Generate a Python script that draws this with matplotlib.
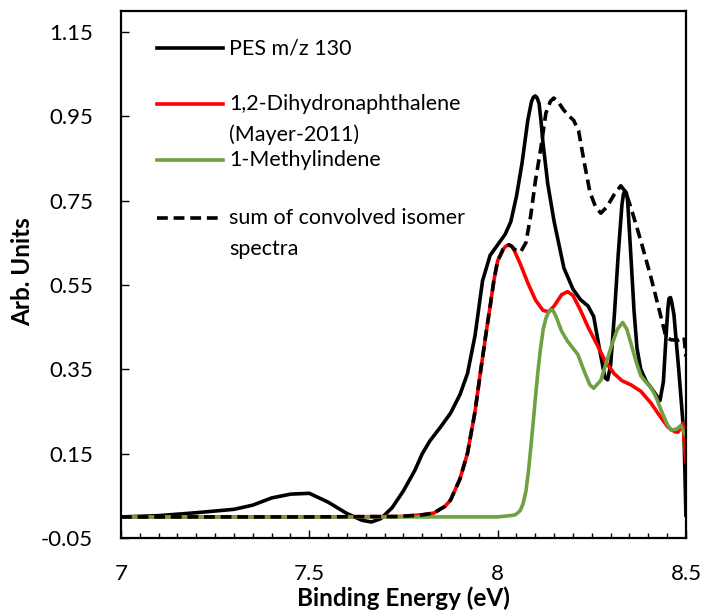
import matplotlib
matplotlib.use('Agg')
import matplotlib.pyplot as plt
from matplotlib.lines import Line2D
from matplotlib.ticker import MultipleLocator

plt.rcParams['font.family'] = ['Lato', 'DejaVu Sans']

# PES m/z 130 (black solid)
pes_x = [7.00, 7.10, 7.20, 7.30, 7.35, 7.40, 7.45, 7.50, 7.55, 7.60, 7.64, 7.665, 7.69,
         7.72, 7.75, 7.78, 7.80, 7.82, 7.85, 7.875, 7.90, 7.92, 7.94, 7.96, 7.98, 8.00,
         8.02, 8.035, 8.05, 8.065, 8.08, 8.09, 8.095, 8.10, 8.105, 8.11, 8.115, 8.12, 8.133,
         8.15, 8.176, 8.20, 8.22, 8.24, 8.255, 8.27, 8.285, 8.292, 8.30, 8.31, 8.32, 8.33,
         8.334, 8.338, 8.342, 8.345, 8.355, 8.362, 8.37, 8.38, 8.395, 8.407, 8.42, 8.431,
         8.44, 8.447, 8.452, 8.455, 8.459, 8.462, 8.468, 8.481, 8.495, 8.50]
pes_y = [0.000, 0.003, 0.010, 0.018, 0.028, 0.045, 0.054, 0.056, 0.035, 0.008, -0.008,
         -0.012, -0.004, 0.022, 0.062, 0.110, 0.150, 0.180, 0.215, 0.246, 0.290, 0.340,
         0.430, 0.560, 0.620, 0.645, 0.670, 0.700, 0.760, 0.840, 0.940, 0.985, 0.995, 0.998,
         0.993, 0.980, 0.940, 0.890, 0.790, 0.700, 0.590, 0.540, 0.515, 0.500, 0.475, 0.400,
         0.330, 0.325, 0.360, 0.480, 0.620, 0.740, 0.765, 0.773, 0.768, 0.750, 0.600, 0.490,
         0.400, 0.350, 0.320, 0.307, 0.290, 0.276, 0.320, 0.426, 0.495, 0.518, 0.520, 0.510,
         0.480, 0.347, 0.190, 0.000]

# 1,2-Dihydronaphthalene (red)
dhn_x = [7.00, 7.50, 7.74, 7.80, 7.83, 7.86, 7.875, 7.90, 7.92, 7.94, 7.955, 7.97, 7.981,
         7.99, 8.00, 8.015, 8.022, 8.03, 8.038, 8.045, 8.06, 8.08, 8.10, 8.12, 8.135, 8.15,
         8.17, 8.186, 8.20, 8.22, 8.24, 8.266, 8.285, 8.309, 8.33, 8.354, 8.38, 8.407, 8.43,
         8.452, 8.47, 8.479, 8.492, 8.50]
dhn_y = [0.000, 0.000, 0.001, 0.005, 0.009, 0.025, 0.040, 0.090, 0.151, 0.250, 0.347, 0.440,
         0.505, 0.560, 0.607, 0.635, 0.642, 0.645, 0.641, 0.630, 0.600, 0.555, 0.515, 0.490,
         0.486, 0.500, 0.527, 0.534, 0.525, 0.490, 0.450, 0.405, 0.370, 0.340, 0.323, 0.313,
         0.298, 0.270, 0.240, 0.213, 0.202, 0.201, 0.222, 0.127]

# 1-Methylindene (green)
mi_x = [7.00, 8.00, 8.043, 8.05, 8.06, 8.067, 8.075, 8.082, 8.088, 8.094, 8.10, 8.107, 8.114,
        8.121, 8.128, 8.135, 8.141, 8.148, 8.155, 8.17, 8.186, 8.20, 8.213, 8.23, 8.245,
        8.255, 8.274, 8.29, 8.301, 8.318, 8.332, 8.343, 8.354, 8.367, 8.38, 8.395, 8.407,
        8.42, 8.434, 8.45, 8.46, 8.475, 8.487, 8.50]
mi_y = [0.000, 0.000, 0.004, 0.007, 0.015, 0.030, 0.060, 0.110, 0.164, 0.220, 0.280, 0.345,
        0.400, 0.445, 0.470, 0.485, 0.491, 0.488, 0.475, 0.440, 0.416, 0.400, 0.385, 0.345,
        0.313, 0.305, 0.324, 0.370, 0.402, 0.445, 0.461, 0.445, 0.411, 0.370, 0.335, 0.318,
        0.307, 0.285, 0.253, 0.220, 0.206, 0.208, 0.217, 0.190]

# sum of convolved isomer spectra (black dashed)
sum_x = [7.00, 7.50, 7.74, 7.80, 7.83, 7.86, 7.875, 7.90, 7.92, 7.94, 7.955, 7.97, 7.981,
         7.99, 8.00, 8.015, 8.022, 8.03, 8.038, 8.045, 8.061, 8.075, 8.088, 8.10, 8.114,
         8.128, 8.14, 8.149, 8.16, 8.175, 8.19, 8.202, 8.215, 8.23, 8.245, 8.26, 8.274,
         8.29, 8.31, 8.327, 8.34, 8.354, 8.38, 8.407, 8.434, 8.447, 8.46, 8.479, 8.495, 8.50]
sum_y = [0.000, 0.000, 0.001, 0.005, 0.009, 0.025, 0.040, 0.090, 0.151, 0.250, 0.347, 0.440,
         0.505, 0.560, 0.607, 0.635, 0.642, 0.645, 0.641, 0.634, 0.628, 0.650, 0.715, 0.795,
         0.870, 0.957, 0.985, 0.993, 0.985, 0.965, 0.950, 0.940, 0.915, 0.840, 0.770, 0.735,
         0.720, 0.735, 0.765, 0.785, 0.770, 0.733, 0.655, 0.568, 0.473, 0.426, 0.420, 0.419,
         0.426, 0.380]

green = '#6FA042'

fig = plt.figure(figsize=(7.05, 6.16), dpi=100)
ax = fig.add_axes([0.1716, 0.1266, 0.8014, 0.856])

lw = 2.6
line_kw = dict(lw=lw, solid_joinstyle='round', solid_capstyle='butt')
ax.plot(pes_x, pes_y, color='black', **line_kw)
ax.plot(dhn_x, dhn_y, color='#FF0000', **line_kw)
ax.plot(mi_x, mi_y, color=green, **line_kw)
ax.plot(sum_x, sum_y, color='black', lw=lw, linestyle=(0, (3, 1.6)))

ax.set_xlim(7, 8.5)
ax.set_ylim(-0.05, 1.2)
ax.set_xticks([7, 7.5, 8, 8.5])
ax.set_xticklabels(['7', '7.5', '8', '8.5'])
ax.xaxis.set_minor_locator(MultipleLocator(0.05))
ax.set_yticks([-0.05, 0.15, 0.35, 0.55, 0.75, 0.95, 1.15])
ax.set_yticklabels(['-0.05', '0.15', '0.35', '0.55', '0.75', '0.95', '1.15'])

ax.tick_params(axis='both', which='major', direction='in', length=6, width=1,
               labelsize=16, colors='black')
ax.tick_params(axis='x', which='major', pad=19)
ax.tick_params(axis='y', which='major', pad=20)
ax.tick_params(axis='x', which='minor', direction='in', length=3.5, width=1)
for s in ax.spines.values():
    s.set_linewidth(1.6)

ax.set_xlabel('Binding Energy (eV)', fontsize=17.5, fontweight='bold', va='center')
ax.xaxis.set_label_coords(0.5, -0.114)
ax.set_ylabel('Arb. Units', fontsize=17.5, fontweight='bold', va='center')
ax.yaxis.set_label_coords(-0.174, 0.505)

# legend drawn by hand, Excel style (handle aligned to first text line)
entries = [
    (dict(color='black', ls='-'), ['PES m/z 130'], 0.929),
    (dict(color='#FF0000', ls='-'), ['1,2-Dihydronaphthalene', '(Mayer-2011)'], 0.823),
    (dict(color=green, ls='-'), ['1-Methylindene'], 0.716),
    (dict(color='black', ls=(0, (3, 1.6))), ['sum of convolved isomer', 'spectra'], 0.607),
]
for style, lines, yy in entries:
    ax.add_line(Line2D([0.064, 0.181], [yy, yy], transform=ax.transAxes, lw=lw, **style))
    for k, t in enumerate(lines):
        ax.text(0.192, yy - k * 0.058, t, transform=ax.transAxes, fontsize=15.5,
                va='center', ha='left')

fig.savefig('out.png', dpi=100)
